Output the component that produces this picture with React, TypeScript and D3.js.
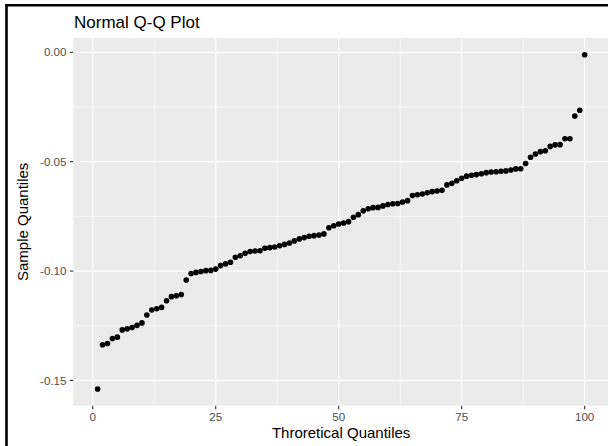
import React from "react";
import * as d3 from "d3";

// sorted sample quantiles, plotted against their rank (1..100)
const sampleQuantiles = [
  -0.1539, -0.1337, -0.1331, -0.1308, -0.1302, -0.1269, -0.1264, -0.1258, -0.1248, -0.1237,
  -0.1201, -0.1178, -0.1172, -0.1166, -0.1136, -0.1117, -0.1113, -0.1107, -0.1041, -0.1011,
  -0.1006, -0.1002, -0.0998, -0.0997, -0.0991, -0.0975, -0.0967, -0.096, -0.0937, -0.093,
  -0.0919, -0.0911, -0.0908, -0.0907, -0.0896, -0.0893, -0.089, -0.0884, -0.0878, -0.0872,
  -0.0862, -0.0853, -0.0847, -0.0841, -0.0838, -0.0835, -0.083, -0.0802, -0.0793, -0.0785,
  -0.078, -0.0774, -0.0754, -0.0742, -0.0724, -0.0715, -0.071, -0.0709, -0.0702, -0.0696,
  -0.0692, -0.0691, -0.0684, -0.0678, -0.0655, -0.0651, -0.0648, -0.0642, -0.0637, -0.0634,
  -0.0631, -0.0606, -0.0599, -0.0587, -0.0576, -0.0566, -0.0562, -0.0559, -0.0555, -0.055,
  -0.0547, -0.0546, -0.0544, -0.0542, -0.0538, -0.0533, -0.0532, -0.0508, -0.048, -0.0465,
  -0.0454, -0.045, -0.043, -0.0423, -0.0422, -0.0395, -0.0395, -0.0291, -0.0265, -0.0011,
];

const xTicks = [0, 25, 50, 75, 100];
const xMinor = [12.5, 37.5, 62.5, 87.5];
const yTicks = [0, -0.05, -0.1, -0.15];
const yMinor = [-0.025, -0.075, -0.125];

const title = "Normal Q-Q Plot";
const xTitle = "Throretical Quantiles";
const yTitle = "Sample Quantiles";

const W = 608;
const H = 446;
const FONT = "'Liberation Sans', Arial, Helvetica, sans-serif";

export default function App() {
  const points = sampleQuantiles.map((v, i) => ({ x: i + 1, y: v }));

  const panel = { left: 73.3, right: 609, top: 38, bottom: 405.7 };

  // ggplot-style 5% expansion of the data range
  const [x0, x1] = d3.extent(points, (d) => d.x) as [number, number];
  const [y0, y1] = d3.extent(points, (d) => d.y) as [number, number];
  const xPad = (x1 - x0) * 0.05;
  const yPad = (y1 - y0) * 0.05;

  const x = d3.scaleLinear().domain([x0 - xPad, x1 + xPad]).range([panel.left, panel.right]);
  const y = d3.scaleLinear().domain([y0 - yPad, y1 + yPad]).range([panel.bottom, panel.top]);

  // R prints a plain hyphen, not the unicode minus d3 uses
  const fmtY = (v: number) => d3.format(".2f")(v).replace("\u2212", "-");

  return (
    <svg
      width={W}
      height={H}
      style={{ position: "absolute", left: 0, top: 0, background: "#fff" }}
    >
      {/* panel */}
      <rect
        x={panel.left}
        y={panel.top}
        width={panel.right - panel.left}
        height={panel.bottom - panel.top}
        fill="#ebebeb"
      />
      {xMinor.map((t) => (
        <line key={"xm" + t} x1={x(t)} x2={x(t)} y1={panel.top} y2={panel.bottom} stroke="#fff" strokeWidth={0.6} />
      ))}
      {yMinor.map((t) => (
        <line key={"ym" + t} x1={panel.left} x2={panel.right} y1={y(t)} y2={y(t)} stroke="#fff" strokeWidth={0.6} />
      ))}
      {xTicks.map((t) => (
        <line key={"xg" + t} x1={x(t)} x2={x(t)} y1={panel.top} y2={panel.bottom} stroke="#fff" strokeWidth={1.2} />
      ))}
      {yTicks.map((t) => (
        <line key={"yg" + t} x1={panel.left} x2={panel.right} y1={y(t)} y2={y(t)} stroke="#fff" strokeWidth={1.2} />
      ))}

      {/* points */}
      {points.map((d) => (
        <circle key={d.x} cx={x(d.x)} cy={y(d.y)} r={2.8} fill="#000" />
      ))}

      {/* x axis */}
      {xTicks.map((t) => (
        <g key={"xt" + t}>
          <line x1={x(t)} x2={x(t)} y1={panel.bottom} y2={panel.bottom + 3.5} stroke="#333" strokeWidth={1.1} />
          <text x={x(t)} y={420.5} textAnchor="middle" fontFamily={FONT} fontSize={11.6} fill="#4d4d4d">
            {t}
          </text>
        </g>
      ))}

      {/* y axis */}
      {yTicks.map((t) => (
        <g key={"yt" + t}>
          <line x1={panel.left - 3.5} x2={panel.left} y1={y(t)} y2={y(t)} stroke="#333" strokeWidth={1.1} />
          <text
            x={66.5}
            y={y(t)}
            dy="0.35em"
            textAnchor="end"
            fontFamily={FONT}
            fontSize={11.6}
            fill="#4d4d4d"
          >
            {fmtY(t)}
          </text>
        </g>
      ))}

      {/* titles */}
      <text x={74} y={28.3} fontFamily={FONT} fontSize={17} fill="#000">
        {title}
      </text>
      <text
        x={(panel.left + panel.right) / 2}
        y={437.5}
        textAnchor="middle"
        fontFamily={FONT}
        fontSize={15}
        fill="#000"
      >
        {xTitle}
      </text>
      <text
        transform={`translate(28,${(panel.top + panel.bottom) / 2}) rotate(-90)`}
        textAnchor="middle"
        fontFamily={FONT}
        fontSize={15}
        fill="#000"
      >
        {yTitle}
      </text>

      {/* frame (top and left edges visible) */}
      <line x1={5.5} x2={W} y1={5.3} y2={5.3} stroke="#000" strokeWidth={2.6} />
      <line x1={6.5} x2={6.5} y1={4} y2={H} stroke="#000" strokeWidth={2.6} />
    </svg>
  );
}
